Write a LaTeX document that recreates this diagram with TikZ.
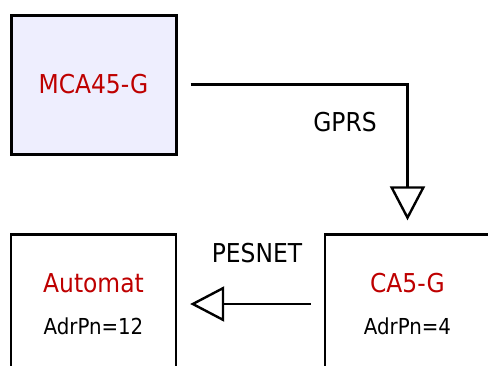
\documentclass[tikz,border=0pt]{standalone}
\usepackage{fontspec}
\setmainfont{DejaVu Sans Condensed}
\usepackage{tikz}
\usetikzlibrary{arrows.meta, positioning}
\definecolor{boxfill}{RGB}{238,238,254}
\definecolor{devred}{RGB}{190,0,0}
\tikzset{
  unit/.style={draw, line width=2.4pt, minimum width=165pt, minimum height=139pt,
    align=center, inner sep=0pt, font=\fontsize{26}{30}\selectfont},
  link/.style={line width=2.4pt, shorten <=13pt, shorten >=13pt,
    -{Triangle[open, length=34pt, width=35pt, line width=2.4pt]}},
  bus/.style={font=\fontsize{26}{30}\selectfont}
}
\begin{document}
\begin{tikzpicture}[x=1pt, y=-1pt]
        \useasboundingbox (0,0) rectangle (488,365);
        \clip (0,0) rectangle (488,365);
        \node[unit, fill=boxfill, line width=3pt] at (93.5, 84.5)   (mca) {\textcolor{devred}{MCA45-G}};
        \node[unit] at (93.5, 304)   (auto) {\textcolor{devred}{Automat}\\[12pt]{\fontsize{22}{26}\selectfont AdrPn=12}};
        \node[unit] at (407.5, 304)   (ca5) {\textcolor{devred}{CA5-G}\\[12pt]{\fontsize{22}{26}\selectfont AdrPn=4}};
        \draw [link] (mca.east) -| (ca5.north);
        \draw [link] (ca5.west) -- (auto.east);

        \node[bus] at (345, 122) (gprs) {GPRS};
        \node[bus] at (257, 253) (pesnet) {PESNET};
    \end{tikzpicture}
\end{document}
